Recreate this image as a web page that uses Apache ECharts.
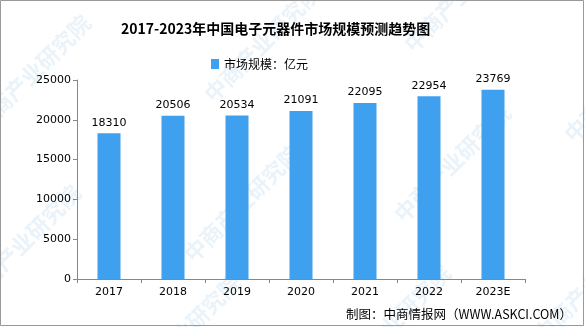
<!DOCTYPE html>
<html>
<head>
<meta charset="utf-8">
<script src="https://cdn.jsdelivr.net/npm/echarts@6/dist/echarts.min.js"></script>
<style>
html,body{margin:0;padding:0;background:#fff;}
#chart{width:585px;height:327px;}
</style>
</head>
<body>
<div id="chart"></div>
<script>
// 2017-2023 market size of electronic components in China (100 million yuan)
const years = ['2017', '2018', '2019', '2020', '2021', '2022', '2023E'];
const marketSize = [18310, 20506, 20534, 21091, 22095, 22954, 23769];
const seriesName = '市场规模：亿元';
const titleText = '2017-2023年中国电子元器件市场规模预测趋势图';
const sourceText = '制图：中商情报网（WWW.ASKCI.COM）';
const watermarkText = '中商产业研究院';

const chart = echarts.init(document.getElementById('chart'));

// faint diagonal watermark across the canvas, reading up and to the right
const marks = [];
const spots = [[-30, 120], [200, 90], [400, 40], [-40, 290], [180, 250], [390, 210], [560, 130], [120, 380], [330, 370], [530, 330]];
spots.forEach(function (p) {
  marks.push({
    type: 'text',
    x: p[0], y: p[1],
    rotation: Math.PI / 4,
    silent: true,
    z: 0,
    style: {
      text: watermarkText,
      fill: 'rgba(160,200,228,0.22)',
      font: 'bold 22px "Noto Sans CJK SC"'
    }
  });
});
// outer frame
marks.push({
  type: 'rect',
  shape: { x: 0.5, y: 0.5, width: 583, height: 325 },
  style: { fill: 'none', stroke: '#999', lineWidth: 1 },
  silent: true
});
marks.push({
  type: 'text',
  right: 13, bottom: 6,
  style: { text: sourceText, fill: '#000', font: '12.5px "Noto Sans CJK SC"' }
});

chart.setOption({
  animation: false,
  backgroundColor: '#fff',
  title: {
    text: titleText,
    left: 116,
    top: 17,
    textStyle: { fontFamily: 'Noto Sans CJK SC', fontWeight: 'bold', fontSize: 14, color: '#000' }
  },
  legend: {
    data: [seriesName],
    top: 53,
    left: 206,
    itemWidth: 8,
    itemHeight: 10,
    icon: 'rect',
    itemGap: 6,
    textStyle: { fontFamily: 'Noto Sans CJK SC', fontSize: 12, color: '#000' }
  },
  grid: { left: 77, right: 60, top: 80, bottom: 48 },
  xAxis: {
    type: 'category',
    data: years,
    axisLine: { lineStyle: { color: '#888' } },
    axisTick: { show: true, alignWithLabel: false, lineStyle: { color: '#888' }, length: 4 },
    axisLabel: { color: '#000', fontSize: 11, fontFamily: 'DejaVu Sans', margin: 8 }
  },
  yAxis: {
    type: 'value',
    min: 0,
    max: 25000,
    interval: 5000,
    axisLine: { show: true, lineStyle: { color: '#888' } },
    axisTick: { show: true, lineStyle: { color: '#888' }, length: 4 },
    splitLine: { show: false },
    axisLabel: {
      color: '#000', fontSize: 11, fontFamily: 'DejaVu Sans', margin: 6,
      formatter: function (v) { return String(v); }
    }
  },
  series: [{
    name: seriesName,
    type: 'bar',
    data: marketSize,
    barWidth: 23,
    itemStyle: { color: '#3fa0f0' },
    label: {
      show: true,
      position: 'top',
      color: '#000',
      fontSize: 11,
      fontFamily: 'DejaVu Sans',
      distance: 5
    },
    z: 2
  }],
  graphic: marks
});
</script>
</body>
</html>
